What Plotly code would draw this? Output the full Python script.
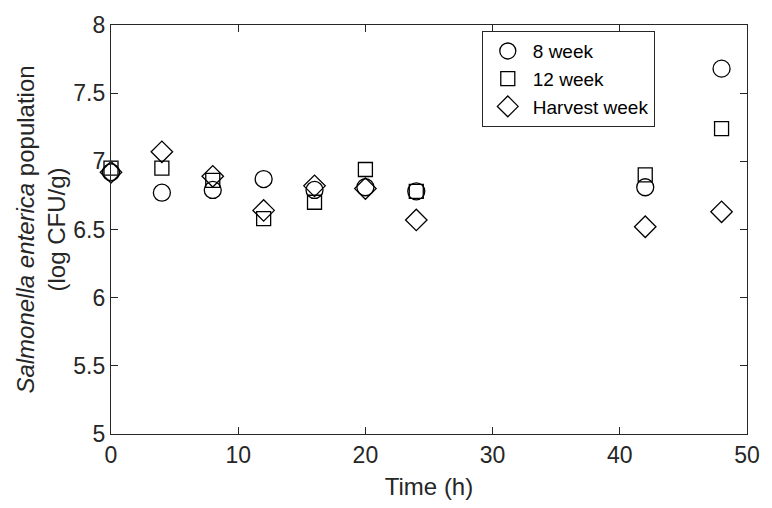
import plotly.graph_objects as go

time_h = [0, 4, 8, 12, 16, 20, 24, 42, 48]
week8 = [6.92, 6.77, 6.79, 6.87, 6.79, 6.81, 6.78, 6.81, 7.68]
week12 = [6.95, 6.95, 6.86, 6.58, 6.70, 6.94, 6.78, 6.90, 7.24]
harvest = [6.92, 7.07, 6.89, 6.64, 6.82, 6.80, 6.57, 6.52, 6.63]

names = ["8 week", "12 week", "Harvest week"]
symbols = ["circle-open", "square-open", "diamond-open"]
sizes = [17, 14, 16.5]

FONT = "Liberation Sans, Arial, Helvetica"
TXT = "#262626"

fig = go.Figure()
for name, ys, sym, sz in zip(names, [week8, week12, harvest], symbols, sizes):
    fig.add_trace(go.Scatter(
        x=time_h, y=ys, mode="markers", name=name,
        marker=dict(symbol=sym, size=sz, color="black", line=dict(color="black", width=1.3)),
        cliponaxis=False,
    ))

axis_common = dict(
    showgrid=False, zeroline=False, showline=True, linecolor=TXT, linewidth=1.4,
    mirror="allticks", ticks="inside", ticklen=7, tickwidth=1.2, tickcolor=TXT,
    tickfont=dict(family=FONT, size=23, color=TXT),
)

fig.update_xaxes(range=[0, 50], dtick=10, tick0=0,
                 title=dict(text="Time (h)", font=dict(family=FONT, size=24, color=TXT), standoff=11),
                 **axis_common)
fig.update_yaxes(range=[5, 8], dtick=0.5, tick0=5,
                 title=dict(text="<i>Salmonella enterica</i> population<br>(log CFU/g)",
                            font=dict(family=FONT, size=24, color=TXT), standoff=0),
                 **axis_common)

fig.update_layout(
    width=772, height=508,
    margin=dict(l=111, r=13, t=15, b=71),
    plot_bgcolor="white", paper_bgcolor="white",
    showlegend=True,
    legend=dict(x=0.583, y=0.985, xanchor="left", yanchor="top",
                bgcolor="white", bordercolor=TXT, borderwidth=1,
                font=dict(family=FONT, size=19, color="black"),
                tracegroupgap=0, itemwidth=40),
)

fig.write_html("out.html")
